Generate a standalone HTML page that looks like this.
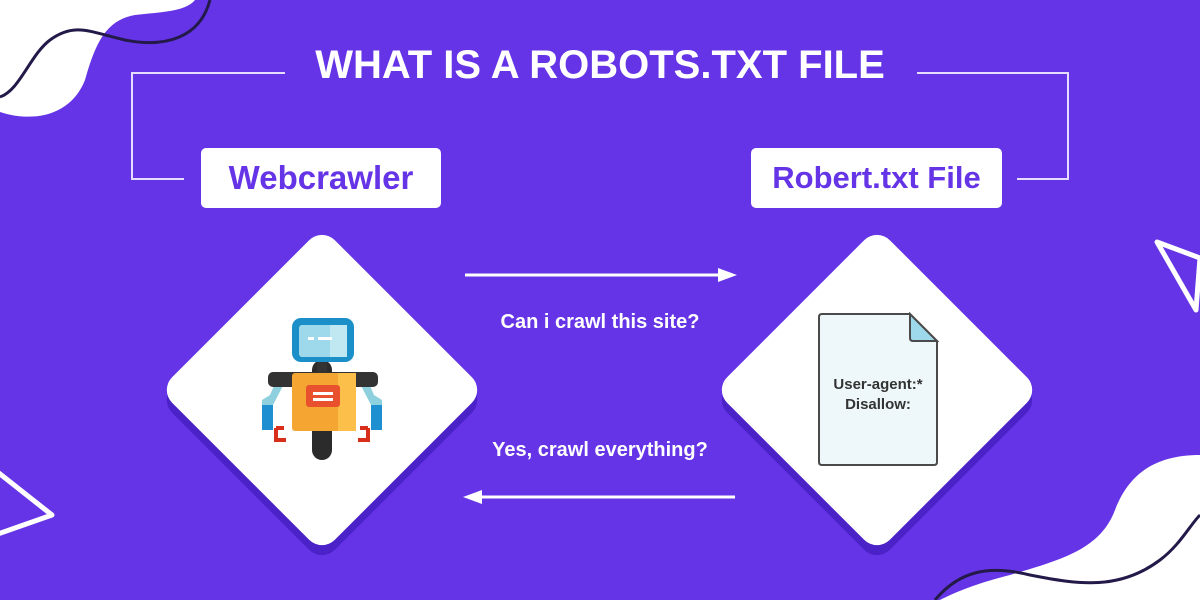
<!DOCTYPE html>
<html><head><meta charset="utf-8"><style>
html,body{margin:0;padding:0}
body{width:1200px;height:600px;overflow:hidden;background:#6534e6;font-family:"Liberation Sans",sans-serif;position:relative}
.t{position:absolute;font-weight:bold;white-space:nowrap}
.box{position:absolute;background:#fff;border-radius:5px;color:#6534e6;font-weight:bold;font-size:31px;text-align:center;line-height:60px;height:60px;top:148px}
</style></head><body>
<svg width="1200" height="600" style="position:absolute;left:0;top:0">
<path d="M0,0 L195,0 C185,12 160,12 135,15 C105,20 95,45 85,80 C70,118 30,122 0,112 Z" fill="#fff"/>
<path d="M0,97 C20,90 30,55 50,40 C75,22 90,32 125,40 C165,48 200,38 210,0" fill="none" stroke="#241a4a" stroke-width="3"/>
<path d="M1200,455 C1160,455 1130,470 1115,510 C1100,550 1060,560 1010,575 C970,585 950,595 940,600 L1200,600 Z" fill="#fff"/>
<path d="M935,600 C960,570 990,565 1030,575 C1080,585 1120,590 1160,560 C1180,545 1190,525 1200,515" fill="none" stroke="#241a4a" stroke-width="3"/>
<polygon points="1157,242 1200,258 1196,310" fill="none" stroke="#fff" stroke-width="5" stroke-linejoin="round"/>
<polygon points="-5,470 52,515 -5,535" fill="none" stroke="#fff" stroke-width="5" stroke-linejoin="round"/>
<g fill="none" stroke="#e6dcff" stroke-width="2">
<polyline points="285,73 132,73 132,179 184,179"/>
<polyline points="917,73 1068,73 1068,179 1017,179"/>
</g>
<g transform="translate(322,400)"><rect x="-115" y="-115" width="230" height="230" rx="18" transform="rotate(45)" fill="#4a22c8"/></g>
<g transform="translate(322,390)"><rect x="-115" y="-115" width="230" height="230" rx="18" transform="rotate(45)" fill="#fff"/></g>
<g transform="translate(877,400)"><rect x="-115" y="-115" width="230" height="230" rx="18" transform="rotate(45)" fill="#4a22c8"/></g>
<g transform="translate(877,390)"><rect x="-115" y="-115" width="230" height="230" rx="18" transform="rotate(45)" fill="#fff"/></g>
<g stroke="#fff" stroke-width="3" fill="#fff">
<line x1="465" y1="275" x2="725" y2="275"/><polygon points="737,275 718,268 718,282" stroke="none"/>
<line x1="475" y1="497" x2="735" y2="497"/><polygon points="463,497 482,490 482,504" stroke="none"/>
</g>
<!-- robot -->
<rect x="312" y="360" width="20" height="100" rx="10" fill="#2b2b2b"/>
<path d="M280,372 L270,395 L262,400 L262,425 L273,425 L273,405 L286,380Z" fill="#8fd0de"/>
<path d="M364,372 L374,395 L382,400 L382,425 L371,425 L371,405 L358,380Z" fill="#8fd0de"/>
<rect x="262" y="405" width="11" height="25" fill="#1e8fd1"/><rect x="371" y="405" width="11" height="25" fill="#1e8fd1"/>
<rect x="268" y="372" width="110" height="15" rx="5" fill="#333"/>
<rect x="317" y="360" width="10" height="15" fill="#333"/>
<rect x="292" y="373" width="64" height="58" rx="3" fill="#f5a532"/>
<rect x="338" y="373" width="18" height="58" fill="#fcbf4a"/>
<rect x="306" y="385" width="34" height="22" rx="3" fill="#e8502e"/>
<rect x="313" y="392" width="20" height="3" fill="#fff"/><rect x="313" y="398" width="20" height="3" fill="#fff"/>
<rect x="292" y="318" width="62" height="44" rx="9" fill="#1b8fc8"/>
<rect x="299" y="325" width="48" height="32" rx="3" fill="#9dd9ea"/>
<rect x="330" y="325" width="17" height="32" fill="#bfe8f2"/>
<rect x="308" y="337" width="6" height="3" fill="#fff"/><rect x="318" y="337" width="14" height="3" fill="#fff"/>
<path d="M276,428 L284,428 M276,428 L276,440 L286,440" stroke="#d92e1a" stroke-width="4" fill="none"/>
<path d="M368,428 L360,428 M368,428 L368,440 L358,440" stroke="#d92e1a" stroke-width="4" fill="none"/>
<!-- document -->
<path d="M822,314 L910,314 L937,341 L937,462 Q937,465 934,465 L822,465 Q819,465 819,462 L819,317 Q819,314 822,314Z" fill="#eef8fb" stroke="#4a4a4a" stroke-width="2"/>
<path d="M910,314 L910,338 Q910,341 913,341 L937,341Z" fill="#9dd9ea" stroke="#4a4a4a" stroke-width="2"/>
</svg>
<div class="t" style="left:0;width:1200px;text-align:center;top:43px;font-size:40px;color:#fff">WHAT IS A ROBOTS.TXT FILE</div>
<div class="box" style="left:201px;width:240px;font-size:33px">Webcrawler</div>
<div class="box" style="left:751px;width:251px">Robert.txt File</div>
<div class="t" style="left:400px;width:400px;text-align:center;top:311px;font-size:20px;color:#fff">Can i crawl this site?</div>
<div class="t" style="left:400px;width:400px;text-align:center;top:439px;font-size:20px;color:#fff">Yes, crawl everything?</div>
<div class="t" style="left:808px;width:140px;text-align:center;top:375px;font-size:15px;color:#333;line-height:20px">User-agent:*<br>Disallow:</div>
</body></html>
